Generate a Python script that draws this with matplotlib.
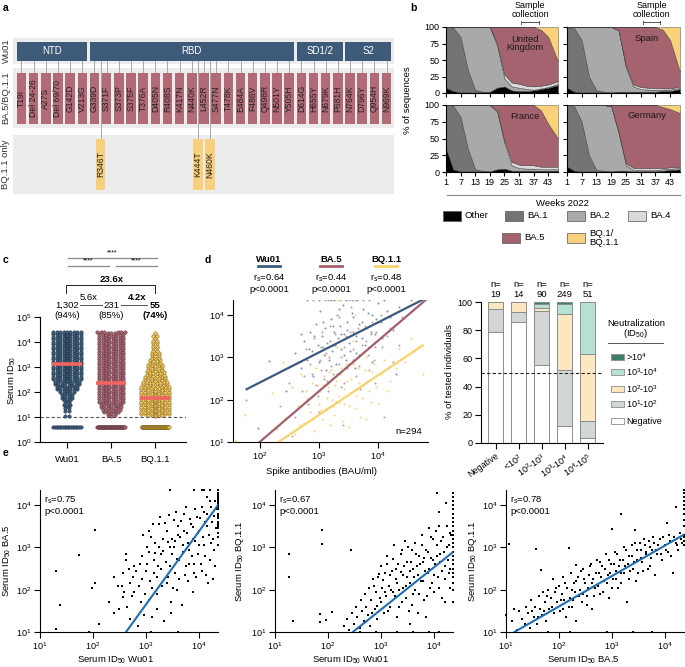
import numpy as np
import matplotlib
matplotlib.use("Agg")
import matplotlib.pyplot as plt
from matplotlib.patches import Rectangle

plt.rcParams['font.family'] = ['Liberation Sans', 'DejaVu Sans']
plt.rcParams['mathtext.fontset'] = 'custom'
plt.rcParams['mathtext.rm'] = 'Liberation Sans'
plt.rcParams['mathtext.it'] = 'Liberation Sans:italic'
plt.rcParams['mathtext.bf'] = 'Liberation Sans:bold'
plt.rcParams['font.size'] = 6.5
plt.rcParams['axes.linewidth'] = 0.8
for a in ('xtick', 'ytick'):
    plt.rcParams[a + '.major.width'] = 0.8
    plt.rcParams[a + '.major.size'] = 4
    plt.rcParams[a + '.labelsize'] = 6.5
    plt.rcParams[a + '.major.pad'] = 2
    plt.rcParams[a + '.direction'] = 'out'

# ---------------- a: spike mutations
domains = ["NTD", "RBD", "SD1/2", "S2"]
domain_first = [0, 6, 23, 27]
domain_last = [5, 22, 26, 30]
ba5_mutations = ["T19I", "Del 24-26", "A27S", "Del 69/70", "G142D", "V213G", "G339D",
                 "S371F", "S373P", "S375F", "T376A", "D405N", "R408S", "K417N", "N440K",
                 "L452R", "S477N", "T478K", "E484A", "F486V", "Q498R", "N501Y", "Y505H",
                 "D614G", "H655Y", "N679K", "P681H", "N764K", "D796Y", "Q954H", "N969K"]
bq11_mutations = ["R346T", "K444T", "N460K"]
bq11_slot = [6.5, 14.5, 15.5]

# ---------------- b: variant share per week (%)
weeks = [1, 4, 7, 10, 13, 16, 19, 22, 25, 28, 31, 34, 37, 40, 43, 47]
variants = ["Other", "BA.1", "BA.2", "BA.4", "BA.5", "BQ.1/\nBQ.1.1"]
variant_colors = ["#000000", "#747474", "#a9a9a9", "#dadada", "#a5636f", "#f9d17a"]
uk = [[8, 3, 1, 1, 1, 1, 2, 8, 10, 4, 3, 3, 4, 6, 8, 12],
      [92, 96, 84, 34, 4, 1, 0, 0, 0, 0, 0, 0, 0, 0, 0, 0],
      [0, 1, 15, 65, 95, 98, 98, 64, 12, 6, 5, 3, 1, 1, 1, 2],
      [0, 0, 0, 0, 0, 0, 0, 3, 6, 6, 6, 5, 5, 4, 4, 4],
      [0, 0, 0, 0, 0, 0, 0, 25, 72, 84, 86, 89, 90, 85, 72, 30],
      [0, 0, 0, 0, 0, 0, 0, 0, 0, 0, 0, 0, 0, 4, 15, 52]]
spain = [[8, 2, 1, 1, 1, 1, 1, 2, 2, 2, 2, 2, 2, 3, 3, 6],
         [92, 96, 79, 24, 3, 1, 0, 0, 0, 0, 0, 0, 0, 0, 0, 0],
         [0, 2, 20, 75, 96, 98, 99, 93, 36, 8, 4, 3, 3, 2, 2, 2],
         [0, 0, 0, 0, 0, 0, 0, 0, 3, 3, 3, 3, 3, 2, 2, 2],
         [0, 0, 0, 0, 0, 0, 0, 5, 59, 87, 91, 92, 92, 89, 73, 22],
         [0, 0, 0, 0, 0, 0, 0, 0, 0, 0, 0, 0, 0, 4, 20, 68]]
france = [[35, 4, 1, 1, 1, 1, 1, 4, 5, 2, 2, 2, 2, 2, 2, 2],
          [65, 95, 81, 34, 3, 1, 0, 0, 0, 0, 0, 0, 0, 0, 0, 0],
          [0, 1, 18, 65, 96, 98, 99, 86, 38, 8, 4, 3, 3, 2, 2, 2],
          [0, 0, 0, 0, 0, 0, 0, 2, 4, 5, 5, 5, 5, 4, 4, 4],
          [0, 0, 0, 0, 0, 0, 0, 8, 53, 85, 89, 90, 90, 84, 64, 42],
          [0, 0, 0, 0, 0, 0, 0, 0, 0, 0, 0, 0, 0, 8, 28, 50]]
germany = [[8, 2, 1, 1, 1, 1, 1, 2, 2, 1, 1, 1, 1, 2, 3, 4],
           [92, 96, 74, 24, 2, 1, 0, 0, 0, 0, 0, 0, 0, 0, 0, 0],
           [0, 2, 25, 75, 97, 98, 97, 56, 8, 2, 2, 2, 2, 2, 2, 2],
           [0, 0, 0, 0, 0, 0, 0, 2, 3, 3, 3, 3, 3, 2, 2, 2],
           [0, 0, 0, 0, 0, 0, 2, 40, 87, 94, 94, 94, 94, 91, 87, 80],
           [0, 0, 0, 0, 0, 0, 0, 0, 0, 0, 0, 0, 0, 3, 6, 12]]
sample_weeks = [32, 39]

# ---------------- c: serum ID50 distribution (counts per log10 level)
strains = ["Wu01", "BA.5", "BQ.1.1"]
strain_colors = ["#3e5f80", "#ac6674", "#f5c95d"]
strain_edges = ["#1c2c3c", "#55303a", "#7a5c1a"]
c_levels = [1.05, 1.15, 1.25, 1.35, 1.45, 1.55, 1.65, 1.75, 1.85, 1.95,
            2.05, 2.15, 2.25, 2.35, 2.45, 2.55, 2.65, 2.75, 2.85, 2.95,
            3.05, 3.15, 3.25, 3.35, 3.45, 3.55, 3.65, 3.75, 3.85, 3.95,
            4.05, 4.15, 4.25, 4.35]
c_counts_wu01 = [2, 0, 2, 2, 3, 2, 3, 4, 4, 5, 7, 7, 8, 8, 10, 10, 10, 10, 10, 10,
                 10, 10, 10, 10, 10, 10, 10, 10, 10, 10, 10, 10, 10, 12]
c_counts_ba5 = [3, 5, 6, 7, 7, 8, 8, 8, 8, 8, 8, 8, 8, 8, 8, 8, 8, 8, 8, 8,
                8, 8, 8, 8, 8, 8, 8, 8, 8, 8, 8, 8, 8, 9]
c_counts_bq11 = [10, 10, 10, 10, 10, 10, 10, 10, 10, 10, 9, 9, 8, 8, 7, 7, 6, 6, 5, 5,
                 5, 4, 4, 3, 3, 3, 2, 2, 2, 2, 2, 1, 2, 1]
c_below_lod = [18, 44, 76]
lod_plot_value = 4
c_medians = [1302, 231, 55]
c_median_text = ["1,302", "231", "55"]
c_pct_text = ["(94%)", "(85%)", "(74%)"]

# ---------------- d: spike antibodies vs ID50 (log10 values)
d_wu01 = [(2.15, 2.91), (1.98, 1.32), (2.60, 3.10), (2.70, 2.75), (2.75, 3.40), (2.80, 2.95),
          (2.85, 3.60), (2.88, 3.15), (2.90, 2.55), (2.95, 3.80), (2.98, 3.30), (3.00, 2.90),
          (3.02, 4.10), (3.05, 3.50), (3.08, 3.05), (3.10, 3.70), (3.12, 2.70), (3.15, 4.36),
          (3.18, 3.40), (3.20, 3.90), (3.22, 3.15), (3.25, 3.60), (3.28, 2.85), (3.30, 4.00),
          (3.32, 3.45), (3.35, 3.75), (3.38, 3.20), (3.40, 4.25), (3.42, 3.55), (3.45, 2.95),
          (3.48, 3.85), (3.50, 3.35), (3.55, 4.05), (3.58, 3.60), (3.62, 3.10), (3.65, 4.36),
          (3.68, 3.80), (3.72, 3.45), (3.75, 4.15), (3.80, 3.70), (3.85, 3.25), (3.90, 4.00),
          (3.95, 3.55), (4.00, 4.30), (4.05, 3.85), (4.15, 4.10), (4.25, 3.65), (4.35, 4.20),
          (4.55, 4.36), (2.80, 4.36), (3.00, 4.36), (3.25, 4.36), (3.85, 4.36), (4.10, 4.36),
          (4.30, 2.60), (2.45, 2.20), (3.03, 3.25), (3.07, 3.85), (3.13, 3.35), (3.17, 2.95),
          (3.23, 3.75), (3.27, 3.30), (3.33, 4.15), (3.37, 3.55), (3.43, 3.05), (3.47, 3.65),
          (3.53, 3.15), (3.57, 3.95), (3.63, 3.50), (3.67, 3.05), (3.73, 3.85), (3.77, 3.30),
          (3.83, 4.05), (3.87, 3.60), (3.93, 3.35), (3.97, 3.90), (4.07, 3.45), (4.20, 3.95),
          (3.20, 4.36), (3.45, 4.36), (3.55, 4.36), (2.92, 3.50), (2.83, 3.20), (2.70, 3.55),
          (3.60, 2.75), (3.90, 2.90)]
d_ba5 = [(1.77, 2.00), (2.35, 1.85), (2.50, 2.40), (2.60, 1.60), (2.65, 2.90), (2.72, 2.20),
         (2.78, 3.20), (2.82, 1.90), (2.88, 2.60), (2.92, 3.45), (2.95, 2.35), (3.00, 1.70),
         (3.02, 2.95), (3.05, 3.60), (3.08, 2.50), (3.12, 3.10), (3.15, 2.20), (3.18, 3.75),
         (3.20, 2.80), (3.24, 3.30), (3.28, 1.95), (3.30, 2.60), (3.34, 3.95), (3.38, 3.00),
         (3.42, 2.40), (3.45, 3.50), (3.50, 2.85), (3.54, 4.20), (3.58, 3.20), (3.62, 2.55),
         (3.66, 3.70), (3.70, 3.05), (3.75, 4.36), (3.80, 3.40), (3.85, 2.70), (3.90, 3.85),
         (3.95, 3.25), (4.05, 4.00), (4.15, 3.50), (4.25, 2.90), (4.40, 3.95), (3.10, 4.36),
         (3.35, 4.36), (2.90, 4.36), (4.10, 1.60), (2.55, 1.15), (3.40, 1.40), (3.03, 2.70),
         (3.07, 3.25), (3.13, 2.45), (3.17, 3.00), (3.23, 2.60), (3.27, 3.55), (3.33, 2.85),
         (3.37, 2.30), (3.43, 3.25), (3.47, 2.75), (3.53, 3.60), (3.57, 2.95), (3.63, 3.40),
         (3.67, 2.80), (3.73, 3.30), (3.77, 3.75), (3.83, 3.05), (3.87, 3.55), (3.93, 2.95),
         (3.97, 3.60), (4.07, 3.25), (4.20, 3.70), (3.50, 4.36), (3.60, 4.36), (2.98, 2.10),
         (2.85, 2.85), (2.75, 2.55), (3.70, 2.25), (3.95, 2.40), (4.35, 3.30)]
d_bq11 = [(1.60, 1.05), (1.75, 1.65), (2.20, 2.15), (2.30, 1.30), (2.40, 2.90), (2.45, 1.60),
          (2.55, 2.30), (2.60, 1.20), (2.65, 1.85), (2.70, 2.60), (2.75, 1.45), (2.80, 2.05),
          (2.85, 1.70), (2.88, 2.40), (2.92, 1.25), (2.95, 2.75), (3.00, 1.90), (3.02, 2.20),
          (3.05, 1.55), (3.08, 2.55), (3.10, 3.05), (3.12, 1.80), (3.15, 2.30), (3.18, 1.40),
          (3.20, 2.70), (3.22, 2.00), (3.25, 1.65), (3.28, 2.45), (3.30, 3.25), (3.33, 1.95),
          (3.36, 2.60), (3.40, 1.50), (3.43, 2.25), (3.46, 2.85), (3.50, 1.85), (3.54, 2.50),
          (3.58, 3.40), (3.62, 2.10), (3.66, 2.75), (3.70, 1.60), (3.75, 2.35), (3.80, 3.00),
          (3.85, 2.20), (3.90, 2.65), (4.00, 1.90), (4.10, 2.95), (4.20, 2.45), (4.35, 3.20),
          (4.55, 3.45), (4.75, 2.60), (3.30, 4.36), (3.60, 4.00), (3.03, 1.75), (3.07, 2.35),
          (3.13, 2.05), (3.17, 2.65), (3.23, 1.85), (3.27, 2.35), (3.33, 2.10), (3.37, 2.75),
          (3.43, 1.90), (3.47, 2.45), (3.53, 2.15), (3.57, 2.85), (3.63, 1.80), (3.67, 2.40),
          (3.73, 2.05), (3.77, 2.70), (3.83, 2.45), (3.87, 1.95), (3.93, 2.85), (3.97, 2.30),
          (4.05, 2.60), (4.15, 2.20), (4.30, 2.75), (2.98, 2.35), (2.90, 1.55), (2.78, 2.20),
          (2.68, 1.40), (3.50, 1.35), (3.80, 1.55), (4.45, 2.90)]
d_rs = ["0.64", "0.44", "0.48"]
d_fit_intercept = [0.98, -1.40, -1.18]
d_fit_slope = [0.713, 1.20, 0.94]
d_fit_xmin = [1.78, 2.00, 2.32]
d_fit_xmax = [4.74, 4.84, 4.75]
d_line_colors = ["#3b5b7d", "#a35f6c", "#fad26a"]
d_n = 294

# ---------------- d right: neutralization level by spike antibody group (%)
spike_groups = ["Negative", "<10$^2$", "10$^2$-10$^3$", "10$^3$-10$^4$", "10$^4$-10$^5$"]
n_tested = [19, 14, 90, 249, 51]
neut_negative = [78.9, 85.7, 55.6, 12.4, 3.9]
neut_1_2 = [15.8, 7.1, 37.8, 39.4, 11.8]
neut_2_3 = [5.3, 7.2, 2.2, 39.8, 47.1]
neut_3_4 = [0.0, 0.0, 3.3, 7.2, 37.2]
neut_above4 = [0.0, 0.0, 1.1, 1.2, 0.0]
neut_labels = ["Negative", "10$^1$-10$^2$", "10$^2$-10$^3$", "10$^3$-10$^4$", ">10$^4$"]
neut_colors = ["#ffffff", "#d3d6d6", "#fce7c1", "#b6e2d4", "#3f7f6a"]

# ---------------- e: pairwise ID50 (log10 values)
e_wu01_ba5 = [(1.31, 2.44), (1.30, 1.08), (1.38, 1.65), (1.74, 2.83), (2.04, 3.41), (2.04, 2.17),
              (1.98, 2.03), (1.93, 1.0), (2.11, 1.19), (2.30, 1.70), (2.40, 2.30), (2.40, 1.45),
              (2.47, 2.10), (2.50, 1.55), (2.55, 2.10), (2.56, 1.82), (2.57, 2.40), (2.62, 2.85),
              (2.62, 2.70), (2.65, 1.60), (2.70, 1.30), (2.70, 2.15), (2.73, 1.85), (2.78, 2.55),
              (2.78, 1.95), (2.82, 2.45), (2.85, 1.15), (2.88, 2.60), (2.90, 1.70), (2.92, 2.25),
              (2.95, 3.30), (2.97, 1.40), (3.00, 2.45), (3.02, 3.00), (3.05, 1.75), (3.05, 2.90),
              (3.08, 2.20), (3.10, 3.25), (3.12, 1.35), (3.15, 2.70), (3.15, 2.40), (3.18, 3.10),
              (3.20, 1.90), (3.22, 2.55), (3.25, 3.55), (3.28, 2.85), (3.30, 2.10), (3.32, 3.20),
              (3.35, 1.25), (3.38, 2.65), (3.40, 3.40), (3.42, 2.30), (3.45, 3.00), (3.47, 1.70),
              (3.50, 2.85), (3.52, 3.65), (3.55, 2.40), (3.55, 3.15), (3.58, 2.00), (3.60, 3.50),
              (3.62, 2.70), (3.65, 3.25), (3.68, 1.65), (3.70, 3.05), (3.72, 3.80), (3.75, 2.55),
              (3.78, 3.35), (3.80, 2.20), (3.82, 2.95), (3.85, 3.55), (3.88, 3.20), (3.90, 2.60),
              (3.92, 3.90), (3.95, 2.30), (3.98, 3.35), (4.00, 3.05), (4.02, 3.70), (4.05, 2.45),
              (4.08, 3.25), (4.10, 3.85), (4.12, 2.80), (4.15, 3.50), (4.18, 2.15), (4.20, 4.36),
              (4.22, 3.10), (4.25, 3.60), (4.28, 2.95), (4.30, 4.10), (4.33, 3.45), (4.36, 3.50),
              (4.36, 3.60), (4.36, 3.70), (4.36, 3.80), (4.36, 3.90), (4.36, 4.00), (4.36, 4.10),
              (4.36, 4.20), (4.36, 4.30), (4.36, 4.36), (3.45, 4.36), (3.90, 4.36), (4.10, 4.36),
              (4.15, 4.20), (4.20, 4.10), (4.05, 4.36), (3.60, 1.00), (3.10, 1.00),
              (3.02, 2.62), (3.06, 3.38), (3.11, 2.05), (3.14, 3.55), (3.17, 2.88), (3.21, 2.30),
              (3.24, 3.02), (3.27, 3.72), (3.29, 2.48), (3.33, 2.92), (3.36, 3.58), (3.39, 2.15),
              (3.41, 3.12), (3.44, 3.78), (3.46, 2.55), (3.49, 3.20), (3.51, 2.05), (3.53, 3.00),
              (3.56, 3.85), (3.59, 2.72), (3.61, 3.30), (3.63, 2.25), (3.66, 3.62), (3.69, 2.90),
              (3.71, 3.40), (3.73, 2.35), (3.76, 3.95), (3.79, 3.10), (3.81, 2.62), (3.83, 3.68),
              (3.86, 2.80), (3.89, 3.48), (3.91, 2.40), (3.93, 3.15), (3.96, 3.72), (3.99, 2.85),
              (4.01, 3.40), (4.03, 2.60), (4.06, 3.95), (4.09, 3.05), (4.11, 3.60), (4.13, 2.35),
              (4.16, 3.80), (4.19, 3.30), (4.21, 2.70), (4.23, 3.95), (4.26, 3.20), (4.29, 3.75),
              (4.31, 2.55), (4.34, 3.90), (2.86, 2.10), (2.93, 2.80), (2.99, 1.90), (2.76, 2.30),
              (2.68, 2.50), (2.58, 1.95), (3.20, 1.55), (3.48, 1.45), (3.88, 1.95), (4.27, 2.25),
              (4.36, 3.05), (4.36, 3.25), (4.36, 3.35), (4.36, 3.45), (4.36, 3.55), (4.36, 3.75),
              (4.36, 3.95), (4.36, 4.05), (4.36, 4.15), (4.36, 4.25)]
e_wu01_bq11 = [(1.27, 2.85), (1.27, 2.30), (1.34, 1.25), (1.88, 3.41), (1.88, 3.09), (1.84, 1.43),
               (1.84, 1.24), (1.97, 1.28), (2.07, 1.47), (2.43, 2.95), (2.30, 1.15), (2.35, 1.30),
               (2.40, 1.05), (2.45, 1.45), (2.50, 1.20), (2.52, 1.60), (2.55, 1.35), (2.60, 1.10),
               (2.62, 1.75), (2.65, 1.50), (2.68, 1.25), (2.70, 1.90), (2.72, 1.60), (2.75, 1.40),
               (2.78, 2.05), (2.80, 1.15), (2.82, 1.75), (2.85, 2.25), (2.88, 1.55), (2.90, 1.95),
               (2.92, 1.30), (2.95, 2.30), (2.98, 1.80), (3.00, 2.55), (3.02, 2.05), (3.05, 1.45),
               (3.08, 2.40), (3.10, 1.85), (3.12, 2.80), (3.15, 2.10), (3.18, 1.60), (3.20, 2.45),
               (3.22, 1.95), (3.25, 3.05), (3.28, 2.25), (3.30, 1.35), (3.32, 2.60), (3.35, 2.00),
               (3.38, 2.85), (3.40, 1.70), (3.42, 2.35), (3.45, 3.15), (3.48, 2.10), (3.50, 2.65),
               (3.52, 1.50), (3.55, 2.45), (3.58, 2.95), (3.60, 1.90), (3.62, 2.30), (3.65, 3.10),
               (3.68, 2.55), (3.70, 1.45), (3.72, 2.80), (3.75, 2.20), (3.78, 3.30), (3.80, 2.65),
               (3.82, 1.75), (3.85, 2.95), (3.88, 2.40), (3.90, 3.45), (3.92, 2.05), (3.95, 2.75),
               (3.98, 3.20), (4.00, 1.95), (4.02, 2.60), (4.05, 3.05), (4.08, 2.30), (4.10, 3.50),
               (4.12, 2.85), (4.15, 1.80), (4.18, 3.25), (4.20, 2.55), (4.22, 4.05), (4.25, 3.00),
               (4.28, 2.40), (4.30, 3.35), (4.10, 3.85), (4.05, 4.30), (4.36, 1.70), (4.36, 2.00),
               (4.36, 2.30), (4.36, 2.50), (4.36, 2.70), (4.36, 2.90), (4.36, 3.00), (4.36, 3.10),
               (4.36, 3.20), (4.36, 3.40), (4.36, 3.60), (4.36, 3.80), (4.36, 3.90), (4.36, 4.00),
               (4.36, 4.10), (4.36, 4.20), (4.36, 4.30), (2.60, 1.00), (2.90, 1.00), (3.30, 1.00),
               (3.60, 1.00), (3.90, 1.00), (4.10, 1.00),
               (2.83, 1.45), (2.87, 2.10), (2.93, 1.62), (2.97, 2.38), (3.01, 1.70), (3.04, 2.22),
               (3.07, 1.95), (3.11, 2.62), (3.14, 1.50), (3.17, 2.35), (3.19, 2.00), (3.23, 2.72),
               (3.26, 1.85), (3.29, 2.50), (3.31, 2.15), (3.34, 1.60), (3.37, 2.42), (3.39, 2.95),
               (3.41, 2.05), (3.44, 2.55), (3.47, 1.80), (3.49, 2.30), (3.51, 3.00), (3.54, 2.15),
               (3.57, 2.65), (3.59, 1.65), (3.61, 2.50), (3.64, 2.00), (3.67, 2.85), (3.69, 2.35),
               (3.71, 1.90), (3.74, 2.60), (3.77, 3.05), (3.79, 2.20), (3.81, 2.75), (3.84, 2.45),
               (3.87, 1.85), (3.89, 2.90), (3.91, 2.50), (3.94, 3.25), (3.96, 2.15), (3.99, 2.70),
               (4.01, 2.35), (4.04, 3.40), (4.06, 2.80), (4.09, 2.05), (4.11, 2.65), (4.14, 3.15),
               (4.16, 2.45), (4.19, 2.90), (4.21, 2.25), (4.24, 3.50), (4.26, 2.70), (4.29, 3.05),
               (4.31, 2.50), (4.33, 3.30), (3.55, 1.20), (3.85, 1.35), (4.20, 1.70), (4.30, 2.05),
               (4.36, 2.15), (4.36, 2.40), (4.36, 2.60), (4.36, 2.80), (4.36, 3.30), (4.36, 3.50),
               (4.36, 3.70)]
e_ba5_bq11 = [(1.06, 3.09), (1.57, 2.97), (1.66, 2.46), (2.19, 2.99), (2.33, 2.58), (3.00, 3.43),
              (3.18, 3.80), (3.43, 3.41), (4.03, 3.59), (4.20, 3.96), (1.00, 1.40), (1.12, 1.25),
              (1.15, 1.55), (1.20, 1.05), (1.25, 1.50), (1.30, 1.30), (1.35, 1.20), (1.38, 1.60),
              (1.42, 1.45), (1.45, 1.10), (1.48, 1.75), (1.52, 1.35), (1.55, 1.60), (1.58, 1.20),
              (1.62, 1.85), (1.65, 1.55), (1.68, 1.40), (1.70, 1.95), (1.73, 1.70), (1.76, 1.25),
              (1.80, 2.00), (1.82, 1.55), (1.85, 1.80), (1.88, 2.25), (1.90, 1.45), (1.93, 1.95),
              (1.96, 1.70), (2.00, 2.10), (2.02, 1.50), (2.05, 1.90), (2.08, 2.30), (2.10, 1.75),
              (2.13, 1.35), (2.16, 2.05), (2.20, 1.80), (2.22, 2.40), (2.25, 1.60), (2.28, 2.15),
              (2.30, 1.95), (2.33, 1.25), (2.36, 2.30), (2.40, 2.00), (2.43, 1.70), (2.46, 2.50),
              (2.50, 2.15), (2.53, 1.85), (2.56, 2.35), (2.60, 2.60), (2.62, 1.55), (2.65, 2.25),
              (2.68, 2.05), (2.72, 2.70), (2.75, 2.40), (2.78, 1.90), (2.82, 2.55), (2.85, 2.20),
              (2.88, 2.85), (2.92, 2.35), (2.95, 1.80), (2.98, 2.60), (3.02, 2.25), (3.05, 2.90),
              (3.08, 2.45), (3.12, 2.05), (3.15, 2.70), (3.18, 2.40), (3.22, 3.00), (3.25, 2.55),
              (3.28, 1.70), (3.32, 2.80), (3.35, 2.45), (3.38, 3.05), (3.42, 2.65), (3.45, 2.20),
              (3.48, 2.95), (3.52, 3.10), (3.55, 2.75), (3.58, 2.45), (3.62, 3.05), (3.65, 2.85),
              (3.70, 3.15), (3.72, 2.55), (3.75, 2.95), (3.80, 3.10), (3.82, 2.35), (3.85, 2.85),
              (3.90, 3.20), (3.95, 2.70), (4.00, 3.05), (4.05, 2.90), (4.10, 3.15), (4.15, 2.40),
              (4.20, 3.10), (4.25, 2.95), (4.30, 3.20), (3.40, 1.00), (2.90, 1.00), (2.20, 1.00),
              (1.80, 1.00), (3.75, 1.00), (4.36, 3.30), (4.36, 3.50), (4.36, 3.65), (4.36, 3.80),
              (4.36, 3.90), (4.36, 4.00), (4.36, 4.10), (4.36, 4.20), (4.36, 4.30), (4.36, 4.36),
              (1.50, 1.50), (1.60, 1.35), (1.72, 1.50), (1.78, 1.85), (1.87, 1.60), (1.95, 2.05),
              (2.03, 1.75), (2.07, 1.55), (2.12, 2.15), (2.18, 1.60), (2.24, 2.00), (2.27, 1.75),
              (2.32, 2.20), (2.38, 1.85), (2.42, 2.45), (2.45, 1.90), (2.48, 2.25), (2.52, 1.65),
              (2.55, 2.05), (2.58, 2.55), (2.63, 2.15), (2.66, 1.85), (2.70, 2.40), (2.74, 2.10),
              (2.77, 2.65), (2.80, 2.30), (2.84, 1.95), (2.87, 2.50), (2.90, 2.15), (2.94, 2.70),
              (2.97, 2.40), (3.00, 2.05), (3.04, 2.60), (3.07, 2.25), (3.10, 2.85), (3.13, 2.55),
              (3.17, 2.15), (3.20, 2.70), (3.23, 2.40), (3.27, 2.95), (3.30, 2.60), (3.33, 2.25),
              (3.37, 2.80), (3.40, 2.50), (3.44, 3.10), (3.47, 2.70), (3.50, 2.40), (3.54, 2.95),
              (3.57, 2.65), (3.60, 3.20), (3.64, 2.90), (3.68, 2.50), (3.71, 3.00), (3.74, 2.75),
              (3.78, 3.25), (3.83, 2.95), (3.87, 3.05), (3.92, 2.85), (3.97, 3.25), (4.02, 2.95),
              (4.07, 3.30), (4.12, 2.80), (4.18, 3.25), (4.23, 3.05), (4.28, 3.35), (4.33, 3.10),
              (4.36, 3.05), (4.36, 3.15), (4.36, 3.25)]
e_pairs = [e_wu01_ba5, e_wu01_bq11, e_ba5_bq11]
e_xnames = ["Wu01", "Wu01", "BA.5"]
e_ynames = ["BA.5", "BQ.1.1", "BQ.1.1"]
e_rs = ["0.75", "0.67", "0.78"]
e_fit_intercept = [-3.54, -1.47, 0.165]
e_fit_slope = [1.73, 1.00, 0.72]
e_fit_xmin = [2.625, 2.47, 1.16]

W, H = 685, 667


def box(l, t, r, b):
    return [l / W, 1 - b / H, (r - l) / W, (b - t) / H]


def clean(ax):
    ax.spines['top'].set_visible(False)
    ax.spines['right'].set_visible(False)
    ax.minorticks_off()


def decade_labels(ax, xd, yd):
    if xd:
        ax.set_xticks([10.0 ** k for k in xd])
        ax.set_xticklabels(["10$^{%d}$" % k for k in xd])
    if yd:
        ax.set_yticks([10.0 ** k for k in yd])
        ax.set_yticklabels(["10$^{%d}$" % k for k in yd])
    ax.minorticks_off()


fig = plt.figure(figsize=(6.85, 6.67), dpi=100)
ov = fig.add_axes([0, 0, 1, 1], zorder=10)
ov.set_xlim(0, W)
ov.set_ylim(H, 0)
ov.axis('off')

for lab, x, y in [("a", 3, 3), ("b", 410, 3), ("c", 3, 255), ("d", 205, 255), ("e", 3, 448)]:
    ov.text(x, y, lab, fontsize=7.5, fontweight='bold', va='top', ha='left')

# ---------------- panel a
MX0, MSTEP, MW = 16.7, 12.17, 9.5
ov.add_patch(Rectangle((12.7, 38), 381, 26, color='#ececec', lw=0, zorder=1))
for name, i0, i1 in zip(domains, domain_first, domain_last):
    x0 = MX0 + i0 * MSTEP
    x1 = MX0 + i1 * MSTEP + MW
    ov.add_patch(Rectangle((x0, 42), x1 - x0, 19, color='#3d5a78', lw=0, zorder=3))
    ov.text((x0 + x1) / 2, 51.5, name, color='white', ha='center', va='center', fontsize=7, zorder=4)
ov.add_patch(Rectangle((12.7, 68), 381, 60, color='#ececec', lw=0, zorder=1))
for i, m in enumerate(ba5_mutations):
    x0 = MX0 + i * MSTEP
    ov.plot([x0 + MW / 2] * 2, [61, 73], color='#9a9a9a', lw=0.6, zorder=2)
    ov.add_patch(Rectangle((x0, 73), MW, 51, color='#b26b76', lw=0, zorder=3))
    ov.text(x0 + MW / 2, 98.5, m, rotation=90, ha='center', va='center', fontsize=6.2,
            color='#222222', zorder=4)
ov.add_patch(Rectangle((12.7, 135), 381, 59, color='#ececec', lw=0, zorder=1))
for m, s in zip(bq11_mutations, bq11_slot):
    xc = MX0 + s * MSTEP + MW / 2
    ov.plot([xc, xc], [61, 139], color='#9a9a9a', lw=0.6, zorder=2)
    ov.add_patch(Rectangle((xc - MW / 2, 139), MW, 51, color='#f8cf7c', lw=0, zorder=3))
    ov.text(xc, 164.5, m, rotation=90, ha='center', va='center', fontsize=6.2,
            color='#222222', zorder=4)
for lab, y in [("Wu01", 51), ("BA.5/BQ.1.1", 98), ("BQ.1.1 only", 164)]:
    ov.text(6, y, lab, rotation=90, ha='center', va='center', fontsize=6.8, color='#333333')

# ---------------- panel b
b_boxes = [(446, 27, 558, 93), (567, 27, 680, 93), (446, 105, 558, 172), (567, 105, 680, 172)]
b_names = ["United\nKingdom", "Spain", "France", "Germany"]
b_data = [uk, spain, france, germany]
b_label_y = [75, 83, 83, 84]
for k, (bx, name, data) in enumerate(zip(b_boxes, b_names, b_data)):
    ax = fig.add_axes(box(*bx))
    ax.stackplot(weeks, *data, colors=variant_colors, edgecolor='#3a3a3a', linewidth=0.3)
    ax.set_xlim(1, 47)
    ax.set_ylim(0, 100)
    ax.set_yticks([0, 25, 50, 75, 100])
    ax.set_xticks([1, 7, 13, 19, 25, 31, 37, 43])
    clean(ax)
    ax.tick_params(length=3, labelsize=6.5, pad=1.5)
    if k % 2 == 1:
        ax.set_yticklabels([])
    if k < 2:
        ax.set_xticklabels([])
        ax.plot(sample_weeks, [107, 107], color='#555555', lw=0.7, clip_on=False)
        for w in sample_weeks:
            ax.plot([w, w], [105, 109], color='#555555', lw=0.7, clip_on=False)
        ax.text(np.mean(sample_weeks), 126, "Sample\ncollection", ha='center', va='center',
                fontsize=6.5, linespacing=1.0, clip_on=False)
    ax.text(33.5, b_label_y[k], name, ha='center', va='center', fontsize=6.8,
            color='#1a1a1a', linespacing=1.0)
ov.text(408, 100, "% of sequences", rotation=90, ha='center', va='center', fontsize=6.8)
ov.plot([447, 680], [195, 195], color='#888888', lw=0.8)
ov.text(563, 204, "Weeks 2022", ha='center', va='center', fontsize=6.8)
leg_pos = [(443, 216), (505, 216), (567, 216), (628, 216), (502, 238), (567, 238)]
for (lx, ly), name, col in zip(leg_pos, variants, variant_colors):
    ov.add_patch(Rectangle((lx, ly - 5), 18, 10, facecolor=col, edgecolor='#555555', lw=0.5))
    ov.text(lx + 22, ly, name, ha='left', va='center', fontsize=6.8, linespacing=1.0)

# ---------------- panel c
def swarm_xy(xc, levels, counts, per_row=9, dx=0.078):
    xs, ys = [], []
    for lv, n in zip(levels, counts):
        r = 0
        while n > 0:
            k = min(per_row, n)
            offs = (np.arange(k) - (k - 1) / 2) * dx
            xs.extend(xc + offs)
            ys.extend(10 ** (lv + 0.04 * r + 0.22 * np.abs(offs)))
            n -= k
            r += 1
    return xs, ys


axc = fig.add_axes(box(40, 317, 186, 442))
axc.set_yscale('log')
c_counts = [c_counts_wu01, c_counts_ba5, c_counts_bq11]
for i in range(3):
    xs, ys = swarm_xy(i, c_levels, c_counts[i])
    axc.scatter(xs, ys, s=6, color=strain_colors[i], edgecolor=strain_edges[i], lw=0.35, zorder=3)
    lx = i + np.linspace(-0.31, 0.31, c_below_lod[i])
    axc.scatter(lx, [lod_plot_value] * len(lx), s=6, color=strain_colors[i],
                edgecolor=strain_edges[i], lw=0.35, zorder=3)
    axc.plot([i - 0.34, i + 0.34], [c_medians[i]] * 2, color='#f2655f', lw=2.6,
             solid_capstyle='butt', zorder=5)
axc.axhline(10, ls=(0, (3, 2)), color='#555555', lw=0.8, zorder=2)
axc.set_xlim(-0.614, 2.70)
axc.set_ylim(1, 1e5)
decade_labels(axc, None, [0, 1, 2, 3, 4, 5])
axc.set_xticks([0, 1, 2])
axc.set_xticklabels(strains, fontsize=6.8)
clean(axc)
axc.tick_params(axis='x', pad=5)
ov.text(12, 380, "Serum ID$_{50}$", rotation=90, ha='center', va='center', fontsize=6.8)

cx = [67, 111, 155]
ov.plot([68, 157], [258, 258], color='#8a8a8a', lw=0.9)
ov.text(112, 256, "****", ha='center', va='bottom', fontsize=5)
ov.plot([68, 109], [266, 266], color='#8a8a8a', lw=0.9)
ov.plot([116, 157], [266, 266], color='#8a8a8a', lw=0.9)
ov.text(88, 264, "****", ha='center', va='bottom', fontsize=5)
ov.text(136, 264, "****", ha='center', va='bottom', fontsize=5)
ov.text(112, 279, "23.6x", ha='center', va='center', fontsize=6.8, fontweight='bold')
ov.plot([66, 66, 155, 155], [293, 285, 285, 293], color='#222222', lw=0.7)
ov.text(89, 297, "5.6x", ha='center', va='center', fontsize=6.8)
ov.text(137, 297, "4.2x", ha='center', va='center', fontsize=6.8, fontweight='bold')
ov.plot([80, 102], [305, 305], color='#555555', lw=0.7)
ov.plot([121, 147], [305, 305], color='#555555', lw=0.7)
for i in range(3):
    fw = 'bold' if i == 2 else 'normal'
    ov.text(cx[i], 305, c_median_text[i], ha='center', va='center', fontsize=6.8, fontweight=fw)
    ov.text(cx[i], 316, c_pct_text[i], ha='center', va='center', fontsize=6.8, fontweight=fw)

# ---------------- panel d scatter
axd = fig.add_axes(box(233, 300, 428, 442))
axd.set_xscale('log')
axd.set_yscale('log')
for pts, col in zip([d_wu01, d_ba5, d_bq11], ["#4d6d90", "#b07582", "#f5c24a"]):
    p = np.array(pts)
    axd.scatter(10 ** p[:, 0], 10 ** p[:, 1], s=2.2, color=col, alpha=0.7, lw=0, zorder=2)
for a0, b0, x0, x1, col in zip(d_fit_intercept, d_fit_slope, d_fit_xmin, d_fit_xmax, d_line_colors):
    lx = np.array([x0, x1])
    axd.plot(10 ** lx, 10 ** (a0 + b0 * lx), color=col, lw=1.6, zorder=3)
axd.set_xlim(10 ** 1.55, 10 ** 4.84)
axd.set_ylim(10, 10 ** 4.36)
decade_labels(axd, [2, 3, 4], [1, 2, 3, 4])
clean(axd)
axd.text(0.97, 0.04, "n=%d" % d_n, transform=axd.transAxes, ha='right', va='bottom', fontsize=6.8)
ov.text(322, 472, "Spike antibodies (BAU/ml)", ha='center', va='center', fontsize=6.8)
for x, name, rs, col in zip([269, 331, 386], strains, d_rs, d_line_colors):
    ov.text(x, 259, name, ha='center', va='center', fontsize=6.8, fontweight='bold')
    ov.plot([x - 11, x + 11], [265.5, 265.5], color=col, lw=2)
    ov.text(x, 278, "r$_\\mathrm{s}$=" + rs, ha='center', va='center', fontsize=6.8)
    ov.text(x, 290, "p<0.0001", ha='center', va='center', fontsize=6.8)

# ---------------- panel d bars
axn = fig.add_axes(box(481, 302, 603, 443))
xb = np.arange(len(spike_groups))
bottom = np.zeros(len(spike_groups))
for vals, col in zip([neut_negative, neut_1_2, neut_2_3, neut_3_4, neut_above4], neut_colors):
    axn.bar(xb, vals, 0.65, bottom=bottom, color=col, edgecolor='#8c8c8c', lw=0.7, zorder=2)
    bottom += np.array(vals)
axn.axhline(50, ls=(0, (3, 2)), color='#222222', lw=0.8, zorder=3)
axn.set_xlim(-0.63, 4.67)
axn.set_ylim(0, 100)
axn.set_yticks([0, 20, 40, 60, 80, 100])
axn.set_xticks(xb)
axn.set_xticklabels(spike_groups, rotation=35, ha='right', rotation_mode='anchor', fontsize=6.5)
clean(axn)
for i, n in enumerate(n_tested):
    axn.text(i, 102, "n=\n%d" % n, ha='center', va='bottom', fontsize=6.8, linespacing=1.15,
             clip_on=False)
ov.text(450, 372, "% of tested individuals", rotation=90, ha='center', va='center', fontsize=6.8)
ov.text(636, 323, "Neutralization", ha='center', va='center', fontsize=6.8)
ov.text(636, 334, "(ID$_{50}$)", ha='center', va='center', fontsize=6.8)
ov.plot([608, 663], [343, 343], color='#555555', lw=0.7)
for yy, lab, col in zip([421, 404, 389, 372, 357], neut_labels, neut_colors):
    ov.add_patch(Rectangle((611, yy - 3), 13, 6, facecolor=col, edgecolor='#8c8c8c', lw=0.6))
    ov.text(626, yy, lab, ha='left', va='center', fontsize=6.5)

# ---------------- panel e
e_boxes = [(40, 490, 218, 632), (275, 490, 453, 632), (506, 490, 684, 632)]
e_xlab = [115, 350, 583]
e_ylab = [7, 240, 473]
for k in range(3):
    l, t, r, b = e_boxes[k]
    ax = fig.add_axes(box(l, t, r, b))
    ax.set_xscale('log')
    ax.set_yscale('log')
    p = np.array(e_pairs[k])
    ax.scatter(10 ** p[:, 0], 10 ** p[:, 1], s=2.5, marker='s', color='black', lw=0, clip_on=False,
               zorder=2)
    lx = np.array([e_fit_xmin[k], 4.36])
    ax.plot(10 ** lx, 10 ** (e_fit_intercept[k] + e_fit_slope[k] * lx), color='#1f6db3', lw=1.5,
            zorder=3)
    ax.set_xlim(10, 10 ** 4.36)
    ax.set_ylim(10, 10 ** 4.36)
    decade_labels(ax, [1, 2, 3, 4], [1, 2, 3, 4])
    clean(ax)
    ov.text(l + 4, 500, "r$_\\mathrm{s}$=" + e_rs[k], ha='left', va='center', fontsize=6.8)
    ov.text(l + 4, 511, "p<0.0001", ha='left', va='center', fontsize=6.8)
    ov.text(e_xlab[k], 660, "Serum ID$_{50}$ " + e_xnames[k], ha='center', va='center', fontsize=6.8)
    ov.text(e_ylab[k], 561, "Serum ID$_{50}$ " + e_ynames[k], rotation=90, ha='center',
            va='center', fontsize=6.8)

fig.savefig("out.png", dpi=100)
